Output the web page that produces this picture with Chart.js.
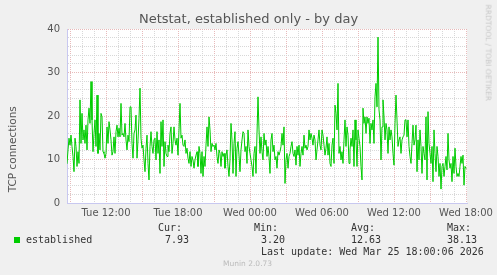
<!DOCTYPE html>
<html>
<head>
<meta charset="utf-8">
<script src="https://cdn.jsdelivr.net/npm/chart.js@4.4.1/dist/chart.umd.min.js"></script>
<style>
  html, body { margin: 0; padding: 0; background: #f0f0f0; }
  #wrap { position: relative; width: 497px; height: 275px; overflow: hidden; font-family: "DejaVu Sans", sans-serif; }
  canvas { position: absolute; left: 0; top: 0; }
  .t { position: absolute; white-space: pre; line-height: 1; }
  .mono { font-family: "DejaVu Sans Mono", monospace; font-size: 10px; color: #333; }
</style>
</head>
<body>
<div id="wrap">
  <canvas id="myChart" width="497" height="275"></canvas>
  <div class="t" style="left:0;width:497px;text-align:center;top:12px;font-size:13px;color:#555">Netstat, established only - by day</div>
  <div class="t" style="left:-48px;top:144px;width:120px;text-align:center;font-size:10.5px;color:#555;transform:rotate(-90deg)">TCP connections</div>
  <div class="t" style="left:433px;top:49px;width:110px;text-align:center;font-size:7.5px;color:#c8c8c8;transform:rotate(90deg)">RRDTOOL / TOBI OETIKER</div>

  <div class="t" style="left:14px;top:237px;width:6px;height:6px;background:#00cc00"></div>
  <div class="t mono" style="left:26px;top:235px">established</div>
  <div class="t mono" id="hdr" style="top:223px"></div>
  <div class="t mono" id="vals" style="top:235px"></div>
  <div class="t mono" style="left:261px;top:247px">Last update: Wed Mar 25 18:00:06 2026</div>
  <div class="t" style="left:223px;top:260px;font-size:7.5px;color:#bbb">Munin 2.0.73</div>
</div>

<script>
// 5 minute samples, first one at Tue 08:45
const startHour = 8.75;
const stepHours = 5 / 60;

const tueMorning = [9.0, 12.2, 14.9, 13.3, 15.6, 13.0, 10.7, 7.2, 14.9, 13.0, 8.4, 11.8, 9.1, 23.7, 13.7, 20.6,
  14.5, 16.8, 13.7, 17.9, 12.2, 19.1, 21.8, 18.3, 27.9, 19.1, 11.8, 16.0, 19.1, 13.0, 24.8, 11.4, 16.0, 12.2,
  20.6, 19.8, 11.8, 11.4, 10.3, 11.4, 17.5, 13.7, 18.7, 16.8, 14.5, 11.0, 11.8, 15.2, 11.4, 16.4, 17.9, 15.2,
  17.2, 15.2, 22.9, 15.6, 16.0, 15.2, 18.3, 14.5, 12.2, 15.6, 14.1, 22.1];
const tueAfternoon = [22.1, 13.7, 10.3, 16.0, 16.8, 20.2, 10.3, 14.5, 19.5, 26.4, 14.9, 12.6, 13.3, 9.9, 7.2,
  12.6, 15.6, 9.1, 5.3, 13.0, 16.4, 13.0, 11.4, 14.5, 14.9, 9.9, 16.4, 11.4, 14.5, 6.8, 18.7, 13.0, 19.1, 8.4,
  14.1, 11.4, 10.7, 13.3, 11.8, 16.0, 17.5, 11.4, 13.7, 17.5, 14.5, 13.3, 14.9, 11.0, 16.8, 22.9, 14.9, 15.6,
  13.3, 13.0, 14.5, 11.4, 12.6, 10.3, 9.1, 11.8, 8.4, 10.7, 9.9, 8.0, 9.9, 11.0, 11.8, 8.4, 13.0];
const tueEvening = [11.4, 6.8, 11.8, 6.1, 10.7, 8.4, 13.3, 17.5, 13.0, 19.8, 16.8, 11.8, 13.7, 13.0, 13.3, 12.2,
  13.7, 10.7, 9.1, 12.2, 11.4, 8.4, 11.8, 10.7, 11.4, 8.0, 11.0, 12.2, 8.4, 6.1, 9.9, 18.3, 14.5, 6.8, 13.7,
  16.4, 6.1, 12.6, 14.1, 11.0, 7.2, 12.2, 14.5, 16.4, 16.0, 11.8, 13.0, 9.1, 16.8, 13.0, 11.4, 9.9, 8.4, 6.1,
  11.4, 13.0, 6.8, 16.0, 24.4, 16.8, 11.4, 15.2, 11.8, 9.9, 16.0, 13.3, 14.5, 10.7, 13.0];
const wedNight = [10.7, 6.8, 14.5, 16.0, 11.8, 13.3, 9.9, 10.7, 8.0, 11.8, 11.0, 11.8, 13.0, 16.0, 13.3, 17.5,
  4.5, 9.9, 11.4, 8.0, 10.7, 11.4, 13.0, 14.1, 11.4, 10.7, 12.2, 8.7, 13.0, 11.0, 13.3, 8.4, 11.4, 13.0, 11.0,
  15.6, 12.6, 13.3, 12.2, 13.0, 16.8, 14.5, 16.0, 14.9, 13.3, 15.6, 14.5, 9.9, 12.2, 14.5, 16.8, 13.3, 12.2,
  16.8, 15.6, 13.3, 11.0, 12.6, 15.2, 11.0, 13.7, 9.1, 8.4, 13.3, 14.9, 9.1, 22.5, 20.6];
const wedMorning = [16.8, 27.5, 11.4, 13.0, 9.9, 11.8, 9.1, 14.5, 19.1, 13.0, 17.5, 15.6, 9.1, 12.2, 14.9, 13.0,
  16.8, 8.4, 19.1, 14.5, 8.4, 16.8, 14.9, 13.0, 8.4, 5.3, 21.8, 18.3, 19.8, 16.0, 19.8, 18.3, 19.5, 13.7, 18.3,
  16.8, 19.1, 13.7, 24.4, 27.5, 22.1, 38.13, 21.4, 19.1, 9.9, 17.5, 23.7, 19.8, 14.5, 18.3, 16.8, 11.4, 17.5,
  14.5, 16.8, 15.2, 11.4, 8.7, 18.3, 24.8, 19.1, 13.0, 14.5, 15.2, 11.4, 14.5, 15.2, 15.6, 19.1];
const wedAfternoon = [19.1, 15.2, 19.1, 13.0, 10.7, 9.1, 13.7, 17.9, 13.3, 14.5, 17.9, 7.2, 14.5, 9.9, 16.8,
  13.0, 6.8, 13.0, 11.4, 9.9, 19.8, 5.3, 21.0, 13.7, 11.4, 9.1, 13.0, 4.9, 16.8, 11.4, 7.2, 13.0, 10.7, 6.1,
  9.1, 3.2, 8.4, 9.1, 6.1, 8.4, 10.7, 7.6, 16.0, 9.9, 8.0, 9.1, 4.9, 10.7, 6.8, 12.6, 8.4, 6.1, 6.8, 6.1, 8.4,
  10.7, 9.1, 11.0, 4.1, 8.4, 7.93];

const tickHours = [12, 18, 24, 30, 36, 42];
const tickLabels = ["Tue 12:00", "Tue 18:00", "Wed 00:00", "Wed 06:00", "Wed 12:00", "Wed 18:00"];

const statNames = ["Cur:", "Min:", "Avg:", "Max:"];
const statValues = ["7.93", "3.20", "12.63", "38.13"];

document.addEventListener("DOMContentLoaded", () => {
  // legend stats columns
  const hdrX = [158, 254, 351, 447];
  const valX = [165, 261, 351, 447];
  const hdr = document.getElementById("hdr");
  const vals = document.getElementById("vals");
  statNames.forEach((s, i) => {
    const d = document.createElement("div");
    d.className = "t mono";
    d.style.left = hdrX[i] + "px";
    d.style.top = "223px";
    d.textContent = s;
    hdr.parentNode.appendChild(d);
  });
  statValues.forEach((s, i) => {
    const d = document.createElement("div");
    d.className = "t mono";
    d.style.left = valX[i] + "px";
    d.style.top = "235px";
    d.textContent = s;
    vals.parentNode.appendChild(d);
  });

  const values = [].concat(tueMorning, tueAfternoon, tueEvening, wedNight, wedMorning, wedAfternoon);
  const points = values.map((v, i) => ({ x: startHour + i * stepHours, y: v }));

  const majorGrid = "rgba(230, 178, 178, 0.9)";
  const minorGrid = "rgba(212, 212, 212, 0.9)";

  const plotBg = {
    id: "plotBg",
    beforeDraw(chart) {
      const { ctx, chartArea: a } = chart;
      ctx.save();
      ctx.fillStyle = "#ffffff";
      ctx.fillRect(a.left, a.top, a.right - a.left, a.bottom - a.top);
      ctx.restore();
    },
  };

  const ctx = document.getElementById("myChart").getContext("2d");
  new Chart(ctx, {
    type: "line",
    data: {
      datasets: [
        {
          label: "established",
          data: points,
          borderColor: "#00cc00",
          borderWidth: 1,
          pointRadius: 0,
          tension: 0,
          fill: false,
        },
      ],
    },
    options: {
      responsive: false,
      animation: false,
      devicePixelRatio: 1,
      layout: { padding: { left: 0, top: 29, right: 30, bottom: 50 } },
      plugins: { legend: { display: false }, tooltip: { enabled: false } },
      scales: {
        x: {
          type: "linear",
          min: startHour,
          max: startHour + 400 * stepHours,
          afterBuildTicks: (scale) => {
            const t = [];
            for (let h = 9; h <= 42; h++) t.push({ value: h });
            scale.ticks = t;
          },
          afterFit: (scale) => { scale.height = 22; },
          ticks: {
            autoSkip: false,
            maxRotation: 0,
            padding: 4,
            color: "#555",
            font: { family: "DejaVu Sans", size: 10 },
            callback: (v) => {
              const k = tickHours.indexOf(v);
              return k >= 0 ? tickLabels[k] : "";
            },
          },
          grid: {
            drawTicks: false,
            color: (c) => (c.tick && c.tick.value % 3 === 0 ? majorGrid : minorGrid),
          },
          border: { color: "#c8c8f0", dash: [1, 1] },
        },
        y: {
          min: 0,
          max: 40,
          afterBuildTicks: (scale) => {
            const t = [];
            for (let v = 0; v <= 40; v += 2) t.push({ value: v });
            scale.ticks = t;
          },
          afterFit: (scale) => { scale.width = 67; },
          ticks: {
            autoSkip: false,
            padding: 7,
            color: "#555",
            font: { family: "DejaVu Sans", size: 10 },
            callback: (v) => (v % 10 === 0 ? v : ""),
          },
          grid: {
            drawTicks: false,
            color: (c) => (c.tick && c.tick.value % 10 === 0 ? majorGrid : minorGrid),
          },
          border: { color: "#c8c8f0", dash: [1, 1] },
        },
      },
    },
    plugins: [plotBg],
  });
});
</script>
</body>
</html>
